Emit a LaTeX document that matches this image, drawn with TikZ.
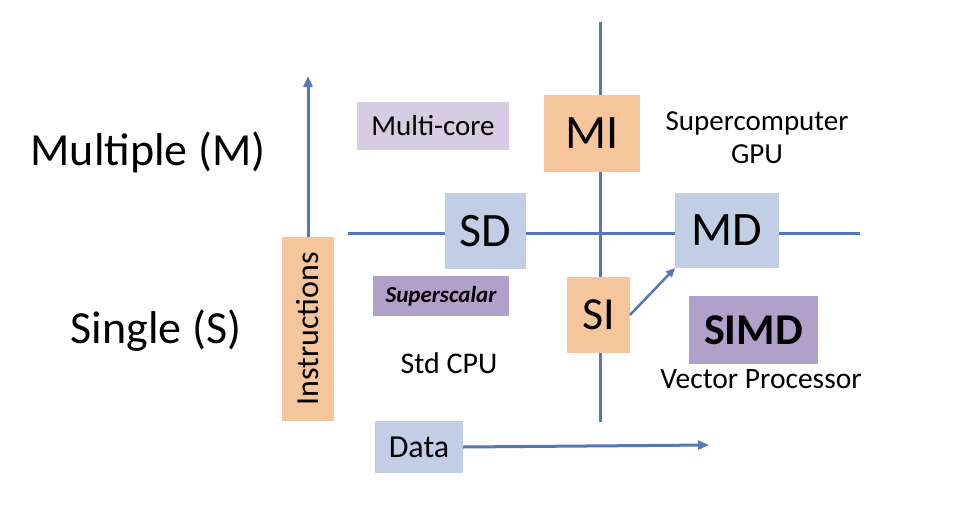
\documentclass[tikz,border=0pt]{standalone}
\usepackage{fontspec}
\setmainfont{Carlito}
\usepackage{graphicx}
\usetikzlibrary{arrows.meta,backgrounds}
\definecolor{lineblue}{HTML}{5577B8}
\definecolor{boxorange}{HTML}{F5C59C}
\definecolor{boxblue}{HTML}{C1CEE6}
\definecolor{boxlav}{HTML}{D7CDE3}
\definecolor{boxpurple}{HTML}{B1A0C9}
\newcommand{\fs}[1]{\fontsize{#1}{#1}\selectfont}
\tikzset{
  box/.style={rectangle, inner sep=0pt, outer sep=0pt, align=center},
  obox/.style={box, fill=boxorange},
  bbox/.style={box, fill=boxblue},
  lbox/.style={box, fill=boxlav},
  pbox/.style={box, fill=boxpurple},
  axisline/.style={draw=lineblue, line width=3pt},
  arr/.style={draw=lineblue, line width=3pt, -{Triangle[length=11pt,width=9pt]}},
  plain/.style={inner sep=0pt, anchor=base}
}
\begin{document}
\begin{tikzpicture}[x=1pt,y=-1pt]
\useasboundingbox (0,0) rectangle (980,531);
% axis end points
\coordinate (vtop) at (600,22);
\coordinate (vbot) at (600,422);
\coordinate (hleft) at (348,233);
\coordinate (hright) at (860,233);
\coordinate (itip) at (308,76);
\coordinate (dtip) at (709,445);
% boxes
\node[obox, minimum width=52pt, minimum height=184pt] (instr) at (308,329) {\fs{32}\rotatebox{90}{Instructions}};
\node[lbox, minimum width=152pt, minimum height=48pt] (multicore) at (433,126) {\fs{29}Multi-core};
\node[bbox, minimum width=81pt, minimum height=76pt] (sd) at (485.5,231) {\fs{48}SD};
\node[obox, minimum width=96pt, minimum height=77pt] (mi) at (592,133.5) {\fs{48}MI};
\node[bbox, minimum width=104pt, minimum height=75pt] (md) at (727,230.5) {\fs{48}MD};
\node[pbox, minimum width=136pt, minimum height=40pt] (superscalar) at (441,296) {\fs{23}\bfseries\itshape Superscalar};
\node[obox, minimum width=63pt, minimum height=76pt] (si) at (598.5,315) {\fs{46}SI};
\node[pbox, minimum width=129pt, minimum height=68pt] (simd) at (753.5,330) {\fs{44}\bfseries SIMD};
\node[bbox, minimum width=88pt, minimum height=52pt] (data) at (419,447) {\fs{32}Data};
% texts
\node[plain] (mult) at (148,165) {\fs{46}Multiple (M)};
\node[plain] (single) at (156,343) {\fs{46}Single (S)};
\node[plain] (supc) at (757,130) {\fs{29}Supercomputer};
\node[plain] (gpu) at (757,163) {\fs{29}GPU};
\node[plain] (stdcpu) at (449,373) {\fs{30}Std CPU};
\node[plain] (vecp) at (761,388) {\fs{29.5}Vector Processor};
% connectors
\begin{pgfonlayer}{background}
\draw[axisline] (vtop) -- (vbot);
\draw[axisline] (hleft) -- (hright);
\end{pgfonlayer}
\draw[arr] (instr.north) -- (itip);
\draw[arr] (data.east) -- (dtip);
\draw[draw=lineblue, line width=2.5pt, -{Triangle[length=9pt,width=8pt]}] (si.east) -- (md.south west);
\end{tikzpicture}
\end{document}
